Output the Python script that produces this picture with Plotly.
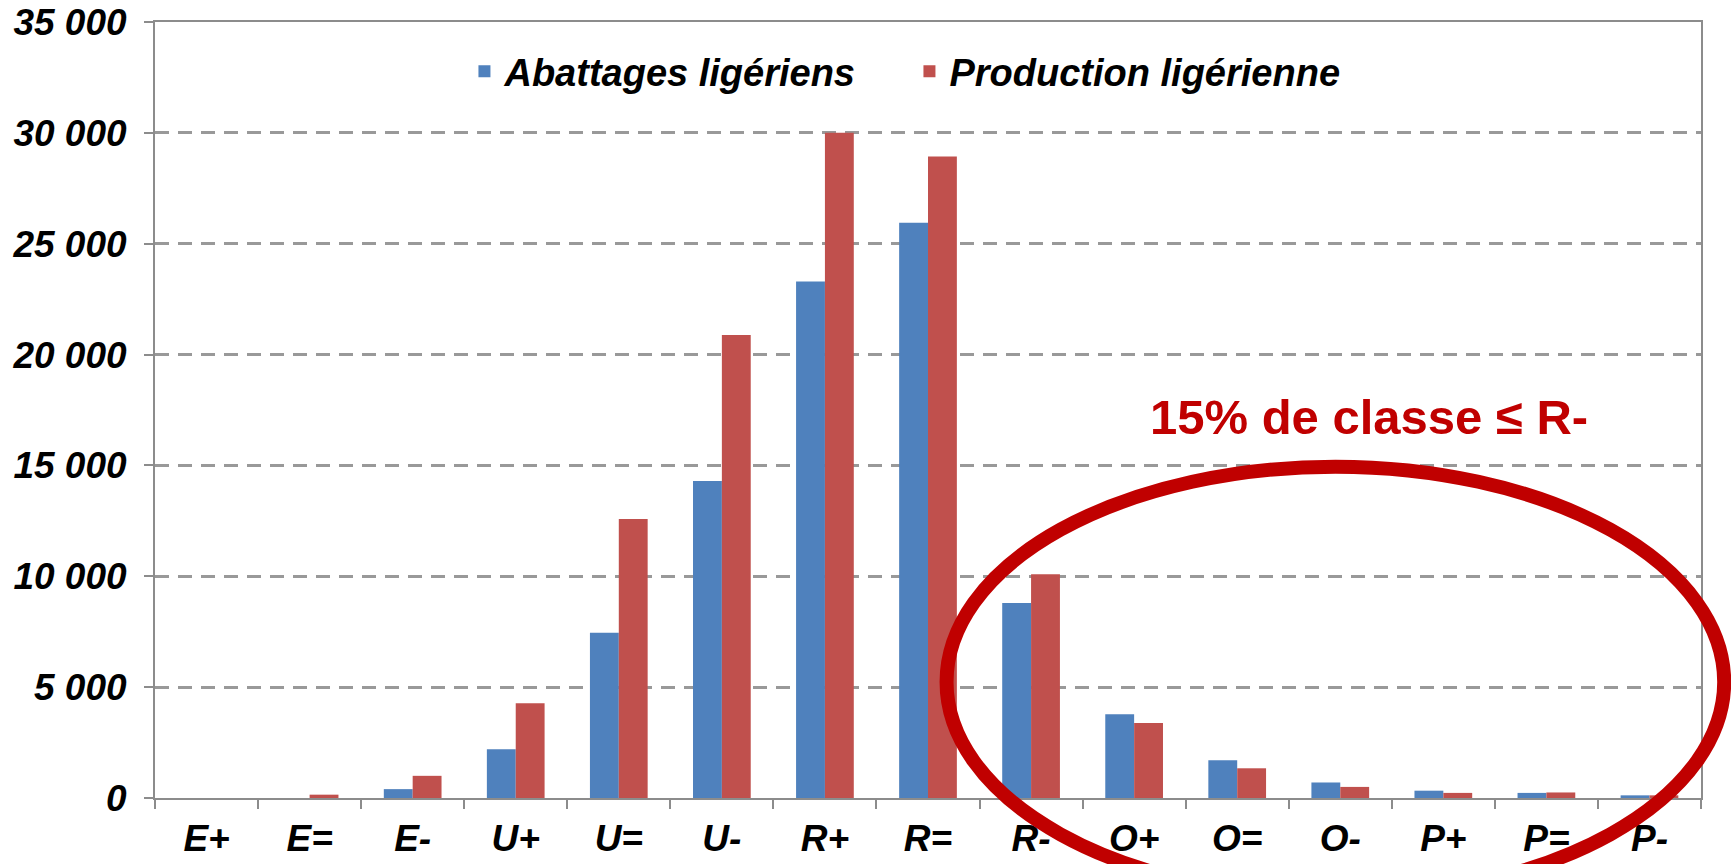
import plotly.graph_objects as go

# Beef carcass conformation classes (EUROP grid)
classes = ["E+", "E=", "E-", "U+", "U=", "U-", "R+", "R=", "R-",
           "O+", "O=", "O-", "P+", "P=", "P-"]
abattages = [0, 0, 400, 2200, 7450, 14300, 23300, 25950, 8800,
             3780, 1700, 700, 330, 230, 120]
production = [0, 150, 1000, 4270, 12580, 20880, 30000, 28930, 10090,
              3380, 1340, 500, 230, 250, 120]
y_ticks = [0, 5000, 10000, 15000, 20000, 25000, 30000, 35000]
y_labels = ["0", "5 000", "10 000", "15 000", "20 000", "25 000", "30 000", "35 000"]

BLUE = "#4F81BD"
RED = "#C0504D"
DARK_RED = "#C00000"
GREY = "#8C8C8C"
FONT = "Liberation Sans, Arial, sans-serif"

fig = go.Figure()
fig.add_trace(go.Bar(x=classes, y=abattages, name="Abattages ligériens",
                     marker=dict(color=BLUE, line=dict(width=0))))
fig.add_trace(go.Bar(x=classes, y=production, name="Production ligérienne",
                     marker=dict(color=RED, line=dict(width=0))))

# red ellipse around the low conformation classes
fig.add_shape(type="circle", xref="paper", yref="paper",
              x0=0.512, x1=1.015, y0=-0.128, y1=0.427,
              line=dict(color=DARK_RED, width=14), layer="above")

fig.add_annotation(text="15% de classe ≤ R-", xref="paper", yref="paper",
                   x=0.785, y=0.491, xanchor="center", yanchor="middle", showarrow=False,
                   font=dict(family=FONT, size=49, color=DARK_RED, weight="bold"))

tick_font = dict(family=FONT, size=37, color="black", weight="bold", style="italic")

fig.update_layout(
    width=1731, height=864,
    margin=dict(l=155, r=30, t=22, b=66),
    plot_bgcolor="white", paper_bgcolor="white",
    barmode="group", bargap=0.44, bargroupgap=0,
    showlegend=True,
    legend=dict(orientation="h", x=0.488, xanchor="center", y=0.936, yanchor="middle",
                font=dict(family=FONT, size=38, color="black", weight="bold", style="italic"),
                bgcolor="rgba(0,0,0,0)", itemwidth=30, entrywidth=400),
)
fig.update_xaxes(
    showline=True, linecolor=GREY, linewidth=2, mirror=True, automargin=False,
    ticks="outside", tickson="boundaries", ticklen=9, tickcolor=GREY, tickwidth=2,
    tickfont=tick_font, ticklabelstandoff=7, showgrid=False,
)
fig.update_yaxes(
    range=[0, 35000], tickvals=y_ticks, ticktext=y_labels,
    showline=True, linecolor=GREY, linewidth=2, mirror=True, automargin=False,
    ticks="outside", ticklen=9, tickcolor=GREY, tickwidth=2,
    tickfont=tick_font, ticklabelstandoff=10,
    showgrid=True, gridcolor="#999999", gridwidth=2.5, griddash="14px,9px",
    zeroline=False,
)

# drop the default page margin so the figure sits at the window origin
fig.write_html("out.html", config={"displayModeBar": False},
               post_script="document.body.style.margin='0';")
